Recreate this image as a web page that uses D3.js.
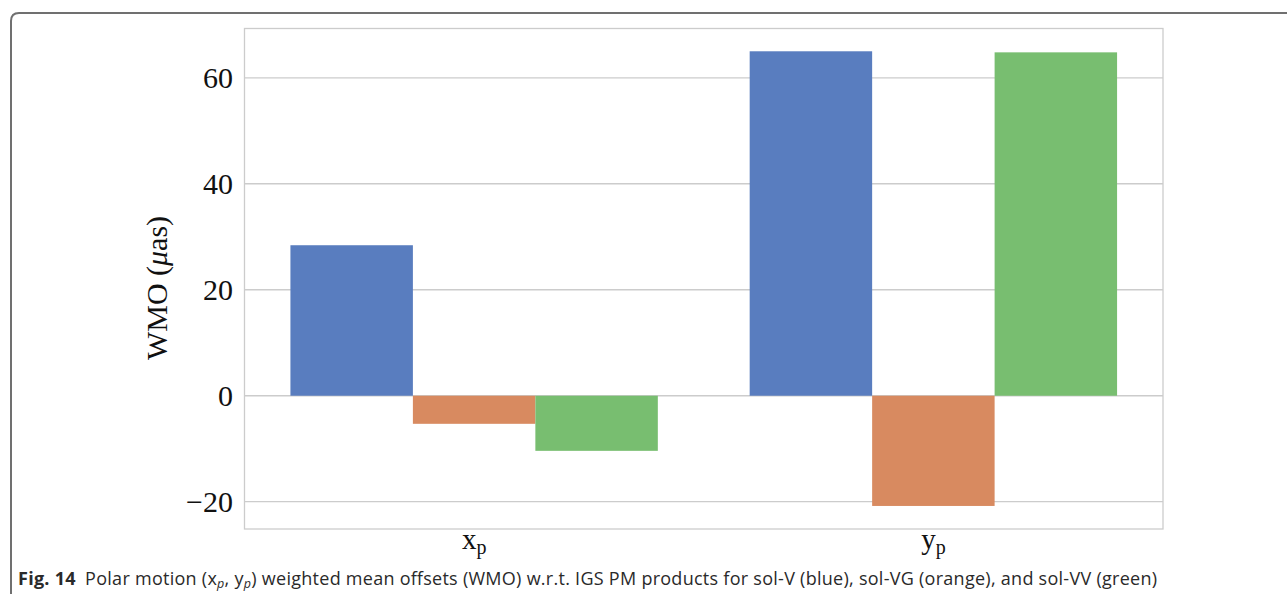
<!DOCTYPE html>
<html>
<head>
<meta charset="utf-8">
<script src="https://cdn.jsdelivr.net/npm/d3@7"></script>
<style>
  html, body { margin: 0; padding: 0; background: #fff; }
  svg { display: block; }
</style>
</head>
<body>
<svg id="chart" width="1287" height="594"></svg>
<script>
// ---- data ----
const categories = ["x", "y"];            // x_p, y_p
const seriesNames = ["sol-V", "sol-VG", "sol-VV"];
const solV  = [28.4, 65.0];
const solVG = [-5.3, -20.8];
const solVV = [-10.4, 64.8];
const yTicks = [-20, 0, 20, 40, 60];
const colors = ["#597dbf", "#d88a60", "#78be70"];

const series = [solV, solVG, solVV];

const svg = d3.select("#chart");

// frame
svg.append("path")
  .attr("d", "M 11 594 L 11 21 Q 11 13 19 13 L 1287 13")
  .attr("fill", "none").attr("stroke", "#707070").attr("stroke-width", 2);

const plot = {left: 244.5, right: 1163, top: 28.5, bottom: 529};

const y = d3.scaleLinear().domain([-25.15, 69.3]).range([plot.bottom, plot.top]);
const x0 = d3.scaleBand().domain(categories).range([plot.left, plot.right]).paddingInner(0.2).paddingOuter(0.1);
const x1 = d3.scaleBand().domain(d3.range(series.length)).range([0, x0.bandwidth()]);

// grid
const g = svg.append("g");
g.selectAll("line.grid").data(yTicks).join("line")
  .attr("x1", plot.left).attr("x2", plot.right)
  .attr("y1", d => y(d)).attr("y2", d => y(d))
  .attr("stroke", "#cccccc").attr("stroke-width", 1.3);

// bars
categories.forEach((c, ci) => {
  series.forEach((s, si) => {
    const v = s[ci];
    g.append("rect")
      .attr("x", x0(c) + x1(si))
      .attr("width", x1.bandwidth())
      .attr("y", y(Math.max(0, v)))
      .attr("height", Math.abs(y(v) - y(0)))
      .attr("fill", colors[si]);
  });
});

// spines
g.append("rect")
  .attr("x", plot.left).attr("y", plot.top)
  .attr("width", plot.right - plot.left).attr("height", plot.bottom - plot.top)
  .attr("fill", "none").attr("stroke", "#cccccc").attr("stroke-width", 1.3);

const serif = "'Liberation Serif', 'Times New Roman', serif";

// y tick labels
g.selectAll("text.ytick").data(yTicks).join("text")
  .attr("x", 233).attr("y", d => y(d) + 10)
  .attr("text-anchor", "end")
  .attr("font-family", serif).attr("font-size", 30).attr("fill", "#111")
  .text(d => d < 0 ? "\u2212" + Math.abs(d) : d);

// x tick labels
categories.forEach(c => {
  const t = g.append("text")
    .attr("x", x0(c) + x0.bandwidth() / 2).attr("y", 549)
    .attr("text-anchor", "middle")
    .attr("font-family", serif).attr("font-size", 29).attr("fill", "#111");
  t.append("tspan").text(c);
  t.append("tspan").attr("font-size", 20).attr("dy", 5).text("p");
});

// y label
const yl = g.append("text")
  .attr("transform", "translate(167,288) rotate(-90)")
  .attr("text-anchor", "middle")
  .attr("font-family", serif).attr("font-size", 30).attr("fill", "#111");
yl.append("tspan").text("WMO (");
yl.append("tspan").attr("font-style", "italic").text("\u03bc");
yl.append("tspan").text("as)");

// caption
const cap = svg.append("text")
  .attr("x", 18).attr("y", 585)
  .attr("textLength", 1139).attr("lengthAdjust", "spacing")
  .attr("font-family", "'Open Sans', 'Noto Sans', sans-serif").attr("font-size", 18).attr("fill", "#2a2a2a");
cap.append("tspan").attr("font-weight", "bold").text("Fig. 14");
cap.append("tspan").text("\u2002Polar motion (x");
cap.append("tspan").attr("font-style", "italic").attr("font-size", 12.5).attr("dy", 3).text("p");
cap.append("tspan").attr("dy", -3).text(", y");
cap.append("tspan").attr("font-style", "italic").attr("font-size", 12.5).attr("dy", 3).text("p");
cap.append("tspan").attr("dy", -3).text(") weighted mean offsets (WMO) w.r.t. IGS PM products for sol-V (blue), sol-VG (orange), and sol-VV (green)");
</script>
</body>
</html>
